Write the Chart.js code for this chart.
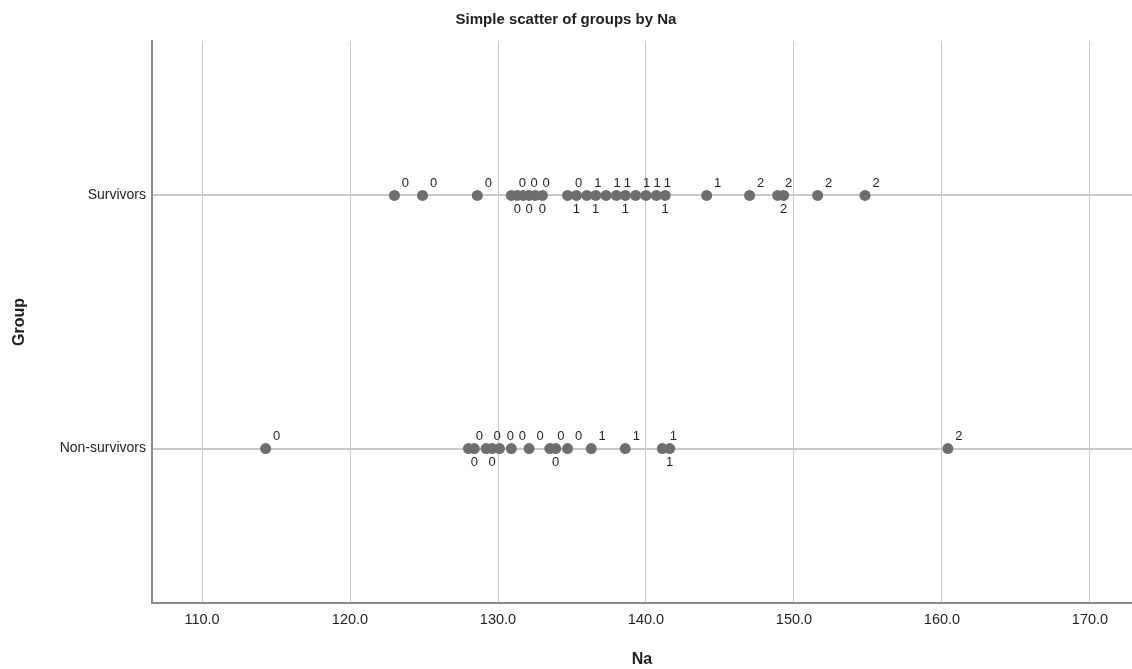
<!DOCTYPE html>
<html>
<head>
<meta charset="utf-8">
<title>Simple scatter of groups by Na</title>
<script src="https://cdn.jsdelivr.net/npm/chart.js@4.4.1/dist/chart.umd.min.js"></script>
<style>
    html, body { margin: 0; padding: 0; background: #fff; }
    #wrap { width: 1132px; height: 669px; }
</style>
</head>
<body>
<div id="wrap"><canvas id="chart" width="1132" height="669"></canvas></div>
<script>
const groups = ['Non-survivors', 'Survivors'];
const xTicks = [110, 120, 130, 140, 150, 160, 170];

// Na per patient and the sodium category shown next to each dot
const survivorsNa = [123.0, 124.9, 128.6, 130.9, 131.3, 131.7, 132.1, 132.5, 133.0, 134.7,
    135.3, 136.0, 136.6, 137.3, 138.0, 138.6, 139.3, 140.0, 140.7, 141.3, 144.1,
    147.0, 148.9, 149.3, 151.6, 154.8];
const survivorsCat = [0, 0, 0, 0, 0, 0, 0, 0, 0, 0,
    1, 1, 1, 1, 1, 1, 1, 1, 1, 1, 1,
    2, 2, 2, 2, 2];

const nonSurvivorsNa = [114.3, 128.0, 128.4, 129.2, 129.6, 130.1, 130.9, 132.1, 133.5, 133.9, 134.7,
    136.3, 138.6, 141.1, 141.6, 160.4];
const nonSurvivorsCat = [0, 0, 0, 0, 0, 0, 0, 0, 0, 0, 0,
    1, 1, 1, 1, 2];

const dotColor = '#6e6e6e';
const gridColor = '#c9c9c9';
const axisColor = '#8a8a8a';
const textColor = '#1e1e1e';
const fontFamily = '"Liberation Sans", Arial, sans-serif';

function rowPoints(values, row) {
    return values.map(v => ({ x: v, y: row }));
}

// point labels: try a few spots around each dot, keep the first free one
const pointLabels = {
    id: 'pointLabels',
    afterDatasetsDraw(chart) {
        const ctx = chart.ctx;
        const spots = [[11, -12], [0, 14], [5, -25], [12, 4], [-11, -12], [0, -25], [-12, 4]];
        ctx.save();
        ctx.font = '13px ' + fontFamily;
        ctx.fillStyle = textColor;
        ctx.textAlign = 'center';
        ctx.textBaseline = 'middle';
        chart.data.datasets.forEach((ds, i) => {
            const meta = chart.getDatasetMeta(i);
            const items = meta.data.map((el, j) => ({ x: el.x, y: el.y, text: String(ds.cats[j]) }))
                .sort((a, b) => a.x - b.x);
            const boxes = [];
            items.forEach(it => {
                const w = ctx.measureText(it.text).width;
                const h = 10;
                for (const [dx, dy] of spots) {
                    const cx = it.x + dx;
                    const cy = it.y + dy;
                    const box = { l: cx - w / 2 - 1, r: cx + w / 2 + 1, t: cy - h / 2 - 1, b: cy + h / 2 + 1 };
                    const hit = boxes.some(o => box.l < o.r && box.r > o.l && box.t < o.b && box.b > o.t);
                    if (!hit) {
                        boxes.push(box);
                        ctx.fillText(it.text, cx, cy);
                        break;
                    }
                }
            });
        });
        ctx.restore();
    }
};

const ctx = document.getElementById('chart').getContext('2d');
new Chart(ctx, {
    type: 'scatter',
    data: {
        datasets: [
            { label: groups[1], data: rowPoints(survivorsNa, 2), cats: survivorsCat },
            { label: groups[0], data: rowPoints(nonSurvivorsNa, 1), cats: nonSurvivorsCat }
        ]
    },
    options: {
        responsive: false,
        animation: false,
        layout: { padding: 0, autoPadding: false },
        elements: {
            point: { radius: 5.5, backgroundColor: dotColor, borderWidth: 0, hoverRadius: 5.5 }
        },
        plugins: {
            legend: { display: false },
            tooltip: { enabled: false },
            title: {
                display: true,
                text: 'Simple scatter of groups by Na',
                color: textColor,
                font: { family: fontFamily, size: 15, weight: 'bold' },
                padding: { top: 11, bottom: 12 }
            }
        },
        scales: {
            x: {
                type: 'linear',
                min: 106.62,
                max: 172.84,
                afterBuildTicks: scale => { scale.ticks = xTicks.map(v => ({ value: v })); },
                afterFit: scale => {
                    scale.height = 66;
                    scale.paddingLeft = 0;
                    scale.paddingRight = 0;
                },
                ticks: {
                    autoSkip: false,
                    maxRotation: 0,
                    padding: 8,
                    color: textColor,
                    font: { family: fontFamily, size: 14.5 },
                    callback: v => v.toFixed(1)
                },
                grid: { color: gridColor, lineWidth: 1, drawTicks: false },
                border: { display: true, color: axisColor, width: 2 },
                title: {
                    display: true,
                    text: 'Na',
                    color: textColor,
                    font: { family: fontFamily, size: 16, weight: 'bold' },
                    padding: { top: 0, bottom: 0 }
                }
            },
            y: {
                type: 'linear',
                min: 0.39,
                max: 2.61,
                afterBuildTicks: scale => { scale.ticks = [{ value: 1 }, { value: 2 }]; },
                afterFit: scale => { scale.width = 152; },
                ticks: {
                    autoSkip: false,
                    padding: 6,
                    color: textColor,
                    font: { family: fontFamily, size: 14 },
                    callback: v => groups[v - 1]
                },
                grid: { color: gridColor, lineWidth: 2, drawTicks: false },
                border: { display: true, color: axisColor, width: 2 },
                title: {
                    display: true,
                    text: 'Group',
                    color: textColor,
                    font: { family: fontFamily, size: 16, weight: 'bold' },
                    padding: { top: 10, bottom: 0 }
                }
            }
        }
    },
    plugins: [pointLabels]
});
</script>
</body>
</html>
